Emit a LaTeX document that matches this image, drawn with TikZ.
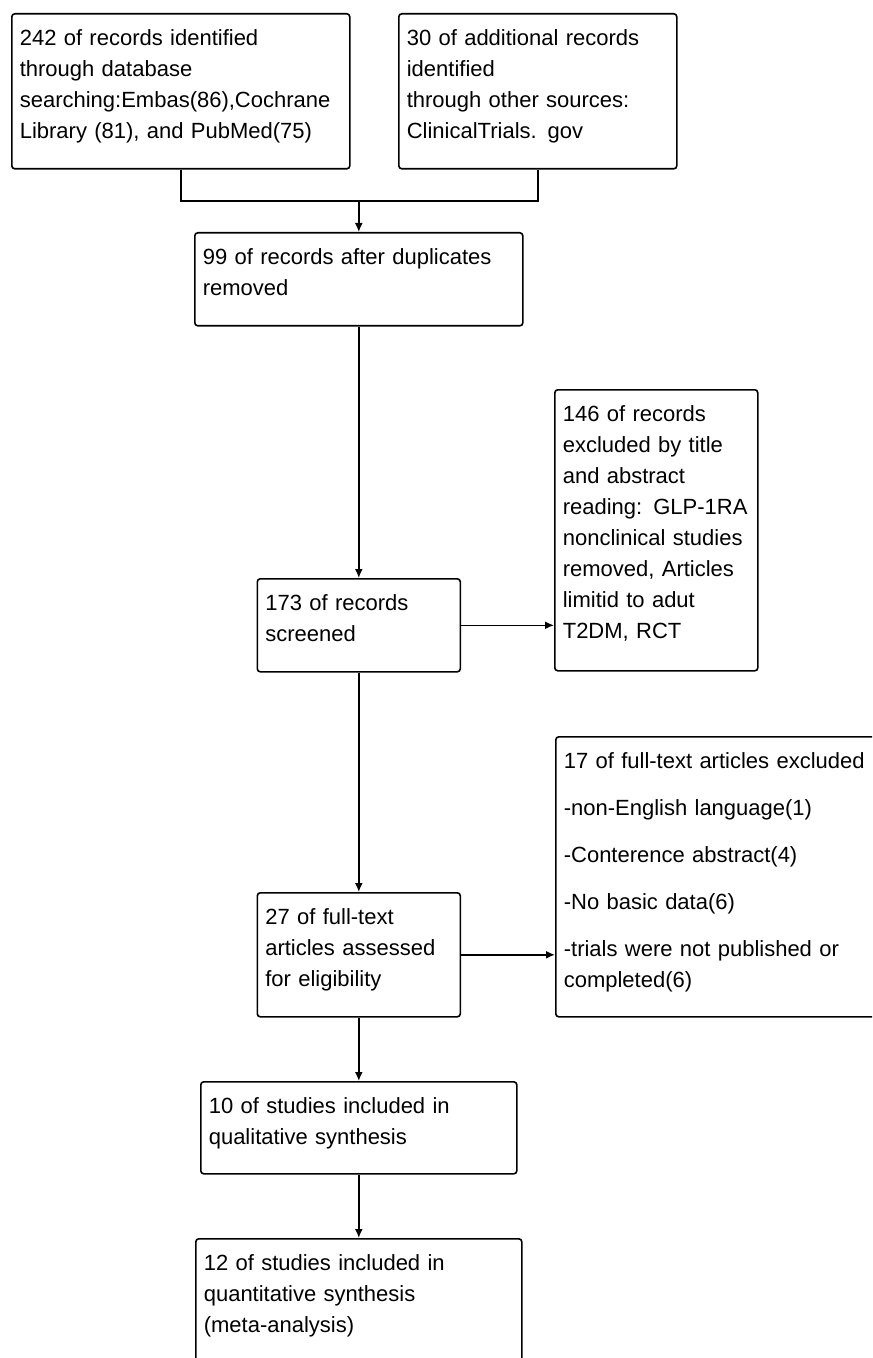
\documentclass[tikz,border=0pt]{standalone}
\usepackage{fontspec}
\setmainfont{Liberation Sans}
\usetikzlibrary{arrows.meta}

\tikzset{
  flowbox/.style={draw, line width=0.8pt, rounded corners=1.5pt, anchor=north west, align=left,
    inner xsep=4pt, inner ysep=0pt, text height=16pt, font=\fontsize{11}{15.5}\selectfont},
  flowarrow/.style={-{Latex[length=4.5pt,width=4pt]}, line width=0.8pt}
}

\begin{document}
\begin{tikzpicture}[x=0.5pt, y=-0.5pt]
    \useasboundingbox (0, 0) rectangle (872, 1358);
    \clip (0, 0) rectangle (872, 1358);
    % identification
    \node[flowbox, text width=161pt, text depth=61.5pt] (recDb) at (11, 13) {242 of records identified\\through database\\searching:Embas(86),Cochrane\\Library (81), and PubMed(75)};
    \node[flowbox, text width=131pt, text depth=61.5pt] (recOther) at (398, 13) {30 of additional records\\identified\\through other sources:\\ClinicalTrials. gov};
    \node[flowbox, text width=156pt, text depth=30.5pt] (recDedup) at (194, 232) {99 of records after duplicates\\removed};
    % screening
    \node[flowbox, text width=93.5pt, text depth=30.5pt] (recScreen) at (256.5, 578) {173 of records\\screened};
    \node[flowbox, text width=93.5pt, text depth=124.5pt] (recExcl) at (554, 389) {146 of records\\excluded by title\\and abstract\\reading: GLP-1RA\\nonclinical studies\\removed, Articles\\limitid to adut\\T2DM, RCT};
    % eligibility
    \node[flowbox, text width=93.5pt, text depth=46pt] (fullText) at (256.5, 892) {27 of full-text\\articles assessed\\for eligibility};
    \node[flowbox, text width=157pt, text depth=124pt] (fullExcl) at (555, 736) {17 of full-text articles excluded\\[8pt]-non-English language(1)\\[8pt]-Conterence abstract(4)\\[8pt]-No basic data(6)\\[8pt]-trials were not published or\\completed(6)};
    % included
    \node[flowbox, text width=150pt, text depth=30pt] (qualSyn) at (200, 1081) {10 of studies included in\\qualitative synthesis};
    \node[flowbox, text width=155pt, text depth=59pt] (quantSyn) at (195, 1238) {12 of studies included in\\quantitative synthesis\\(meta-analysis)};

    \path (recDedup.north) ++(0, -31) coordinate (join);
    \draw[line width=0.8pt] (recDb.south) |- (join) -| (recOther.south);
    \draw[flowarrow] (join) -- (recDedup.north);
    \draw[flowarrow] (recDedup.south) -- (recScreen.north);
    \draw[flowarrow] (recScreen.east) -- (recScreen.east -| recExcl.west);
    \draw[flowarrow] (recScreen.south) -- (fullText.north);
    \draw[flowarrow] (fullText.east) -- (fullText.east -| fullExcl.west);
    \draw[flowarrow] (fullText.south) -- (qualSyn.north);
    \draw[flowarrow] (qualSyn.south) -- (quantSyn.north);
\end{tikzpicture}
\end{document}
